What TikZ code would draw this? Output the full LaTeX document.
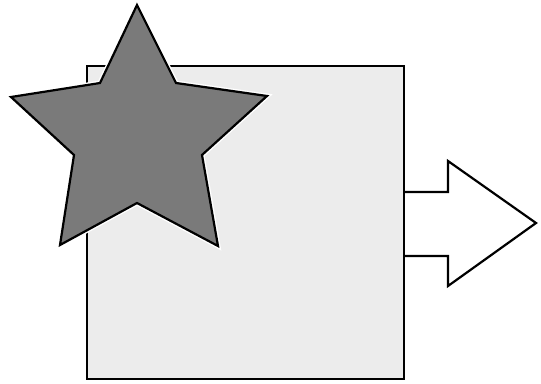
\documentclass[tikz,border=0pt]{standalone}
\begin{document}
\begin{tikzpicture}[x=1pt,y=-1pt,
  boxstyle/.style={draw=black,line width=2.6pt,fill=gray!15},
  arrowstyle/.style={draw=black,line width=2.2pt,fill=white,line join=miter},
  starstyle/.style={draw=black,line width=2.2pt,line join=miter}]
\useasboundingbox[fill=white] (0,0) rectangle (541,383);
\coordinate (s0) at (404,192);
\draw[arrowstyle] (s0) -- (448,192) -- (448,161) -- (536,223) -- (448,286) -- (448,256) -- (404,256);
\draw[boxstyle] (87,66) rectangle (404,379);
\path[draw=white,line width=5pt,line join=miter]
  (137,5) -- (176,83) -- (267,96) -- (202,155) -- (218,246) -- (137,203) -- (60,245) -- (74,155) -- (11,97) -- (100,83) -- cycle;
\draw[starstyle,fill={rgb,255:red,122;green,122;blue,122}]
  (137,5) -- (176,83) -- (267,96) -- (202,155) -- (218,246) -- (137,203) -- (60,245) -- (74,155) -- (11,97) -- (100,83) -- cycle;
\end{tikzpicture}
\end{document}
